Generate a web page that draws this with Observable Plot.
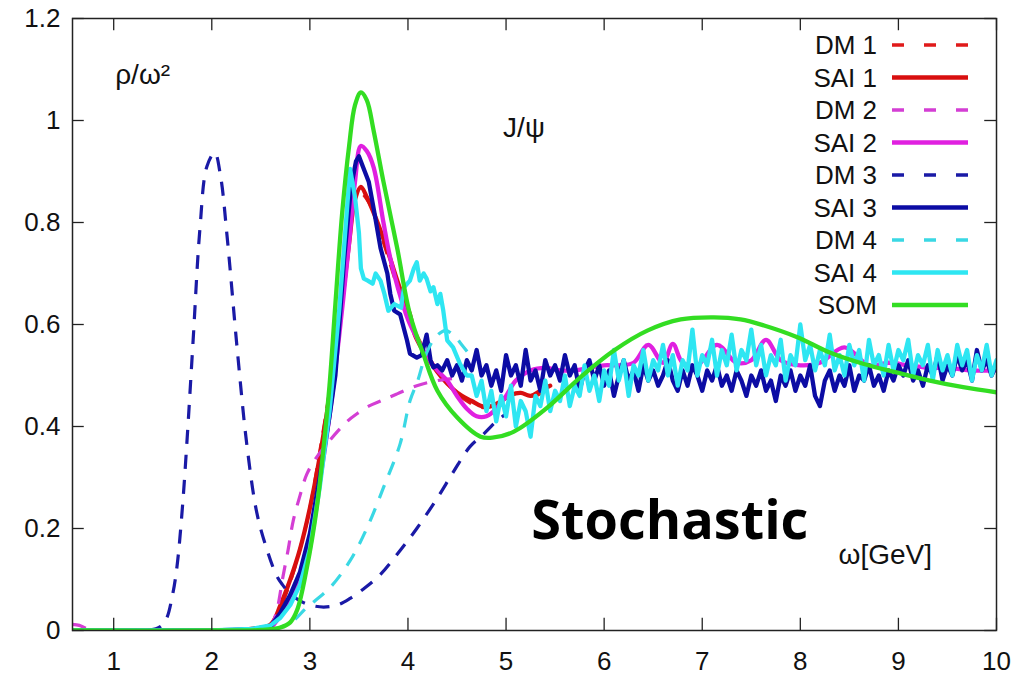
<!DOCTYPE html>
<html><head><meta charset="utf-8">
<script src="https://cdn.jsdelivr.net/npm/d3@7"></script>
<script src="https://cdn.jsdelivr.net/npm/@observablehq/plot@0.6"></script>
<style>
body{margin:0;background:#fff;}
#chart{position:relative;width:1022px;height:680px;}
</style></head><body><div id="chart"></div>
<script>
// ---------- axes ----------
const xDomain = [0.58, 10];
const yDomain = [0, 1.2];
const xTicks = [1, 2, 3, 4, 5, 6, 7, 8, 9, 10];
const yTicks = [0, 0.2, 0.4, 0.6, 0.8, 1, 1.2];
const yTickLabels = ["0", "0.2", "0.4", "0.6", "0.8", "1", "1.2"];

// ---------- series (only the parts that can be seen above the noisy curves) ----------
const seriesNames = ["DM 1", "SAI 1", "DM 2", "SAI 2", "DM 3", "SAI 3", "DM 4", "SAI 4", "SOM"];
const seriesColors = ["#e01a1a", "#d80f0f", "#d43ed4", "#e020e0", "#1a1aa6", "#0c0ca4", "#3ad8e4", "#2ee6f2", "#33dd22"];
const seriesDashed = [true, false, true, false, true, false, true, false, false];

const dm1Omega = [0.58, 2.0, 2.5, 2.6, 2.7, 2.8, 2.9, 3.0, 3.1, 3.2, 3.3, 3.4, 3.5, 3.6, 3.7, 3.8, 3.9, 4.0, 4.1, 4.2, 4.3, 4.4, 4.5, 4.6, 4.7, 4.8, 4.9, 5.0, 5.1, 5.2, 5.3, 5.4];
const dm1Rho   = [0, 0, 0.002, 0.01, 0.045, 0.095, 0.16, 0.24, 0.35, 0.47, 0.61, 0.77, 0.86, 0.84, 0.79, 0.73, 0.67, 0.62, 0.575, 0.54, 0.51, 0.485, 0.465, 0.45, 0.44, 0.437, 0.445, 0.458, 0.465, 0.462, 0.46, 0.47];

const sai1Omega = [0.58, 2.0, 2.4, 2.6, 2.7, 2.8, 2.9, 3.0, 3.1, 3.2, 3.3, 3.4, 3.46, 3.52, 3.58, 3.69, 3.8, 3.92, 4.02, 4.07, 4.15, 4.25, 4.35, 4.45, 4.55, 4.65, 4.75, 4.85, 4.95, 5.05, 5.15, 5.25, 5.35, 5.45];
const sai1Rho   = [0, 0, 0.003, 0.012, 0.05, 0.1, 0.16, 0.24, 0.34, 0.46, 0.6, 0.76, 0.845, 0.87, 0.85, 0.80, 0.74, 0.67, 0.62, 0.58, 0.55, 0.52, 0.495, 0.475, 0.46, 0.45, 0.44, 0.44, 0.45, 0.462, 0.466, 0.46, 0.47, 0.48];

const dm2Omega = [0.58, 0.65, 0.72, 0.8, 1.0, 2.0, 2.55, 2.62, 2.67, 2.72, 2.78, 2.83, 2.9, 2.97, 3.07, 3.17, 3.28, 3.38, 3.48, 3.6, 3.72, 3.89, 4.09, 4.3, 4.5];
const dm2Rho   = [0.012, 0.01, 0.004, 0, 0, 0, 0, 0.015, 0.045, 0.1, 0.16, 0.215, 0.265, 0.307, 0.34, 0.365, 0.39, 0.41, 0.425, 0.44, 0.45, 0.464, 0.48, 0.49, 0.495];

const sai2Omega = [0.58, 2.0, 2.5, 2.6, 2.7, 2.8, 2.9, 3.0, 3.1, 3.2, 3.3, 3.4, 3.46, 3.52, 3.58, 3.65, 3.75, 3.82, 3.9, 4.0, 4.1, 4.2, 4.3, 4.4, 4.5, 4.6, 4.7, 4.8, 4.9, 5.0, 5.1, 5.25, 5.4, 5.55, 5.7, 5.85, 6.0, 6.15, 6.3, 6.45, 6.6, 6.7, 6.8, 6.95, 7.15, 7.35, 7.5, 7.65, 7.8, 8.0, 8.2, 8.45, 8.7, 8.9, 9.1, 9.3, 9.5, 9.75, 10];
const sai2Rho   = [0, 0, 0.002, 0.006, 0.03, 0.065, 0.11, 0.18, 0.29, 0.42, 0.58, 0.76, 0.88, 0.95, 0.94, 0.908, 0.80, 0.73, 0.67, 0.61, 0.57, 0.535, 0.51, 0.49, 0.46, 0.435, 0.42, 0.42, 0.435, 0.46, 0.49, 0.51, 0.515, 0.51, 0.51, 0.515, 0.52, 0.52, 0.525, 0.56, 0.525, 0.562, 0.525, 0.52, 0.56, 0.525, 0.53, 0.57, 0.53, 0.52, 0.525, 0.555, 0.52, 0.525, 0.52, 0.515, 0.515, 0.51, 0.51];

const dm3Omega = [0.58, 1.2, 1.45, 1.53, 1.6, 1.645, 1.7, 1.75, 1.81, 1.88, 1.95, 2.03, 2.09, 2.155, 2.26, 2.36, 2.46, 2.56, 2.66, 2.72, 2.8, 2.9, 3.0, 3.14, 3.28, 3.41, 3.55, 3.72, 3.92, 4.09, 4.3, 4.46, 4.63, 4.77, 4.9, 5.0];
const dm3Rho   = [0, 0, 0.005, 0.02, 0.07, 0.125, 0.24, 0.38, 0.57, 0.79, 0.91, 0.937, 0.89, 0.775, 0.55, 0.36, 0.23, 0.16, 0.108, 0.09, 0.072, 0.058, 0.05, 0.046, 0.05, 0.063, 0.082, 0.11, 0.157, 0.2, 0.26, 0.31, 0.36, 0.385, 0.41, 0.425];

const sai3HeadOmega = [0.58, 2.0, 2.4, 2.6, 2.7, 2.8, 2.9, 3.0, 3.1, 3.2, 3.26, 3.3, 3.35, 3.42, 3.47, 3.5, 3.54, 3.6, 3.66, 3.72, 3.79, 3.82, 3.86, 3.92, 3.99, 4.02, 4.09, 4.14, 4.19, 4.23, 4.26];
const sai3HeadRho   = [0, 0, 0.002, 0.008, 0.035, 0.07, 0.115, 0.19, 0.3, 0.42, 0.5, 0.6, 0.73, 0.87, 0.92, 0.93, 0.91, 0.88, 0.817, 0.75, 0.70, 0.66, 0.627, 0.62, 0.569, 0.543, 0.535, 0.54, 0.58, 0.53, 0.516];
// SAI 3 noisy tail, sampled every 0.05 from omega = 4.30
const sai3TailStart = 4.30, sai3TailStep = 0.05;
const sai3TailRho = [0.52, 0.51, 0.53, 0.50, 0.52, 0.49, 0.53, 0.51, 0.55, 0.50, 0.52, 0.48, 0.51, 0.47, 0.54, 0.50, 0.52, 0.48, 0.55, 0.49,
  0.51, 0.47, 0.53, 0.50, 0.52, 0.49, 0.54, 0.50, 0.52, 0.47, 0.51, 0.53, 0.49, 0.52, 0.48, 0.51, 0.46, 0.50, 0.53, 0.49,
  0.51, 0.47, 0.52, 0.49, 0.51, 0.48, 0.50, 0.53, 0.49, 0.47, 0.51, 0.48, 0.52, 0.50, 0.47, 0.51, 0.49, 0.52, 0.48, 0.50,
  0.47, 0.51, 0.49, 0.46, 0.50, 0.48, 0.51, 0.47, 0.49, 0.45, 0.50, 0.48, 0.51, 0.47, 0.50, 0.48, 0.52, 0.46, 0.44, 0.49,
  0.51, 0.47, 0.50, 0.48, 0.52, 0.47, 0.50, 0.49, 0.52, 0.48, 0.50, 0.47, 0.51, 0.49, 0.52, 0.50, 0.53, 0.49, 0.51, 0.48,
  0.52, 0.50, 0.54, 0.49, 0.52, 0.50, 0.54, 0.51, 0.53, 0.49, 0.55, 0.51, 0.53, 0.50, 0.52];

const dm4Omega = [0.58, 2.0, 2.6, 2.75, 2.85, 2.94, 3.05, 3.21, 3.41, 3.58, 3.75, 3.92, 4.02, 4.1, 4.18, 4.28, 4.38, 4.46, 4.55, 4.65];
const dm4Rho   = [0, 0, 0.002, 0.01, 0.022, 0.04, 0.058, 0.085, 0.137, 0.2, 0.28, 0.366, 0.45, 0.49, 0.54, 0.575, 0.588, 0.58, 0.56, 0.535];

const sai4HeadOmega = [0.58, 2.0, 2.4, 2.6, 2.7, 2.8, 2.9, 3.0, 3.1, 3.2, 3.3, 3.36, 3.41, 3.46, 3.5, 3.52, 3.55, 3.59, 3.64, 3.67, 3.72, 3.76, 3.8, 3.86, 3.93, 3.96, 4.02, 4.06, 4.09, 4.12, 4.16, 4.19, 4.23, 4.26, 4.3, 4.33, 4.36, 4.4, 4.46, 4.53, 4.6];
const sai4HeadRho   = [0, 0, 0.003, 0.01, 0.025, 0.05, 0.09, 0.16, 0.28, 0.43, 0.63, 0.78, 0.905, 0.85, 0.78, 0.71, 0.69, 0.686, 0.68, 0.70, 0.686, 0.66, 0.627, 0.64, 0.633, 0.673, 0.686, 0.71, 0.722, 0.686, 0.70, 0.69, 0.665, 0.673, 0.64, 0.66, 0.627, 0.569, 0.555, 0.523, 0.50];
// SAI 4 noisy tail, sampled every 0.05 from omega = 4.65
const sai4TailStart = 4.65, sai4TailStep = 0.05;
const sai4TailRho = [0.50, 0.46, 0.49, 0.43, 0.47, 0.41, 0.46, 0.42, 0.48, 0.40, 0.45, 0.43, 0.38, 0.46, 0.44, 0.49, 0.43, 0.47, 0.45, 0.50,
  0.44, 0.48, 0.46, 0.52, 0.47, 0.50, 0.45, 0.51, 0.48, 0.55, 0.49, 0.53, 0.46, 0.52, 0.50, 0.55, 0.49, 0.53, 0.51, 0.56,
  0.50, 0.54, 0.48, 0.53, 0.51, 0.59, 0.50, 0.54, 0.52, 0.57, 0.50, 0.55, 0.52, 0.58, 0.51, 0.55, 0.53, 0.59, 0.52, 0.56,
  0.50, 0.54, 0.52, 0.57, 0.49, 0.54, 0.52, 0.60, 0.53, 0.56, 0.51, 0.55, 0.52, 0.58, 0.51, 0.54, 0.50, 0.56, 0.52, 0.55,
  0.49, 0.57, 0.52, 0.54, 0.50, 0.56, 0.51, 0.55, 0.53, 0.57, 0.50, 0.54, 0.52, 0.56, 0.49, 0.55, 0.51, 0.54, 0.50, 0.56,
  0.52, 0.55, 0.49, 0.54, 0.51, 0.56, 0.50, 0.53];

const somOmega = [0.58, 2.0, 2.5, 2.7, 2.8, 2.87, 2.97, 3.07, 3.14, 3.2, 3.26, 3.33, 3.4, 3.46, 3.52, 3.58, 3.65, 3.75, 3.89, 4.02, 4.16, 4.3, 4.5, 4.74, 4.86, 5.08, 5.42, 5.76, 6.1, 6.44, 6.78, 7.12, 7.39, 7.63, 7.97, 8.3, 8.64, 8.98, 9.32, 9.66, 10];
const somRho   = [0, 0, 0.001, 0.006, 0.016, 0.04, 0.124, 0.24, 0.36, 0.48, 0.64, 0.82, 0.95, 1.03, 1.055, 1.04, 0.98, 0.88, 0.75, 0.62, 0.54, 0.47, 0.418, 0.38, 0.378, 0.39, 0.437, 0.497, 0.549, 0.588, 0.61, 0.614, 0.61, 0.598, 0.575, 0.545, 0.523, 0.506, 0.49, 0.477, 0.467];

// ---------- annotations ----------
const noteText  = ["ρ/ω²", "J/ψ", "ω[GeV]"];
const noteOmega = [1.015, 4.97, 8.39];
const noteRho   = [1.09, 0.986, 0.147];
const stampText = ["Stochastic"];
const stampOmega = [6.67];
const stampRho = [0.214];

// ---------- build table ----------
const sai3Omega = sai3HeadOmega.concat(sai3TailRho.map((_, i) => +(sai3TailStart + i * sai3TailStep).toFixed(2)));
const sai3Rho = sai3HeadRho.concat(sai3TailRho);
const sai4Omega = sai4HeadOmega.concat(sai4TailRho.map((_, i) => +(sai4TailStart + i * sai4TailStep).toFixed(2)));
const sai4Rho = sai4HeadRho.concat(sai4TailRho);

const seriesArrays = [
  [dm1Omega, dm1Rho], [sai1Omega, sai1Rho], [dm2Omega, dm2Rho], [sai2Omega, sai2Rho],
  [dm3Omega, dm3Rho], [sai3Omega, sai3Rho], [dm4Omega, dm4Rho], [sai4Omega, sai4Rho], [somOmega, somRho]
];
const rows = [];
seriesArrays.forEach(([om, rh], i) => om.forEach((o, j) => rows.push({series: seriesNames[i], omega: o, rho: rh[j]})));
const notes = noteText.map((t, i) => ({t, omega: noteOmega[i], rho: noteRho[i]}));
const stamps = stampText.map((t, i) => ({t, omega: stampOmega[i], rho: stampRho[i]}));

const FONT = "Liberation Sans, Arial, sans-serif";
const noisy = new Set(["SAI 3", "SAI 4"]);

const lineMarks = seriesNames.map((name, i) => Plot.line(rows.filter(r => r.series === name), {
  x: "omega", y: "rho",
  stroke: seriesColors[i],
  strokeWidth: seriesDashed[i] ? 3.2 : 4.3,
  strokeDasharray: seriesDashed[i] ? "14,11" : undefined,
  strokeLinecap: seriesDashed[i] ? "butt" : "round",
  curve: noisy.has(name) ? "linear" : "catmull-rom",
  clip: true
}));

const tickLenX = 0.12, tickLenY = 0.024;

const plot = Plot.plot({
  width: 1022, height: 680,
  marginLeft: 72, marginRight: 26, marginTop: 18, marginBottom: 50,
  style: {fontFamily: FONT, fontSize: "26px", color: "#111", background: "#fff"},
  x: {domain: xDomain},
  y: {domain: yDomain},
  marks: [
    ...lineMarks,
    Plot.ruleX(xTicks, {x: d => d, y1: yDomain[0], y2: yDomain[0] + tickLenY, stroke: "#222", strokeWidth: 1.3}),
    Plot.ruleX(xTicks, {x: d => d, y1: yDomain[1], y2: yDomain[1] - tickLenY, stroke: "#222", strokeWidth: 1.3}),
    Plot.ruleY(yTicks, {y: d => d, x1: xDomain[0], x2: xDomain[0] + tickLenX, stroke: "#222", strokeWidth: 1.3}),
    Plot.ruleY(yTicks, {y: d => d, x1: xDomain[1], x2: xDomain[1] - tickLenX, stroke: "#222", strokeWidth: 1.3}),
    Plot.frame({stroke: "#222", strokeWidth: 1.5}),
    Plot.axisX({ticks: xTicks, tickSize: 0, tickPadding: 21, tickFormat: d => String(d), label: null, fontSize: 26}),
    Plot.axisY({ticks: yTicks, tickSize: 0, tickPadding: 12, tickFormat: d => yTickLabels[yTicks.indexOf(d)], label: null, fontSize: 26}),
    Plot.text(notes, {x: "omega", y: "rho", text: "t", textAnchor: "start", fontSize: 28, fill: "#111"}),
    Plot.text(stamps, {x: "omega", y: "rho", text: "t", textAnchor: "middle", fontSize: 54, fontWeight: 700, fontFamily: "Open Sans, sans-serif", fill: "#000"})
  ]
});
document.getElementById("chart").appendChild(plot);

// ---------- legend (inside plot, top right) ----------
const svg = d3.select(plot);
const lg = svg.append("g").attr("font-family", FONT).attr("font-size", 26).attr("fill", "#111");
seriesNames.forEach((name, i) => {
  const yy = 45 + i * 32.5;
  lg.append("text").attr("x", 877).attr("y", yy).attr("dy", "0.36em").attr("text-anchor", "end").text(name);
  const ln = lg.append("line").attr("x1", 892).attr("x2", 968).attr("y1", yy).attr("y2", yy)
    .attr("stroke", seriesColors[i]).attr("stroke-width", seriesDashed[i] ? 3.5 : 4.5);
  if (seriesDashed[i]) ln.attr("stroke-dasharray", "12,20");
});
</script></body></html>
